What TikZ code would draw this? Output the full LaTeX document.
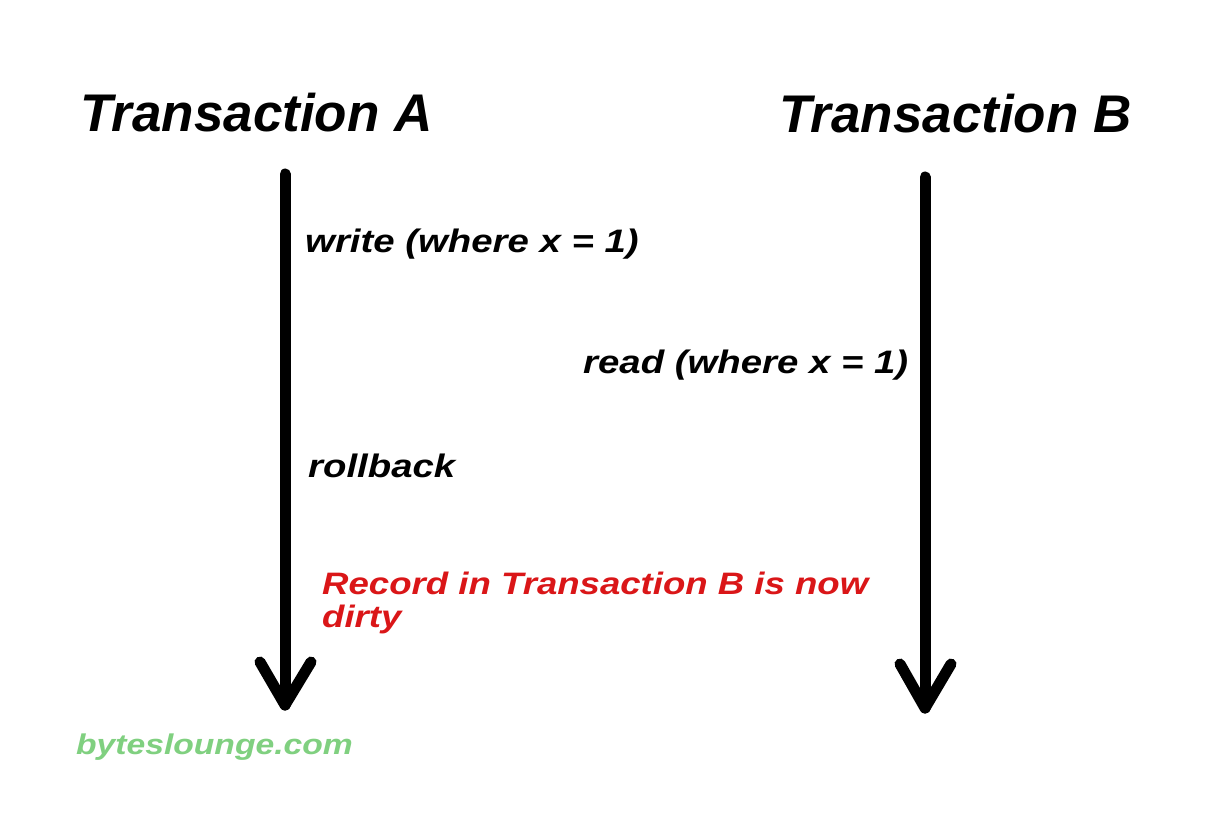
\documentclass[tikz,border=0pt]{standalone}
\usepackage{fontspec}
\setmainfont{Liberation Sans}
\newfontfamily\titlefont{Liberation Sans}
\newfontfamily\bodyfont{Liberation Sans}[FakeStretch=1.18]
\definecolor{dirtyred}{RGB}{218,22,24}
\definecolor{sitegreen}{RGB}{128,208,128}
\begin{document}
\begin{tikzpicture}[x=1pt,y=-1pt,
  title/.style={anchor=base west,inner sep=0pt,font=\titlefont\bfseries\itshape\fontsize{53}{60}\selectfont},
  label/.style={anchor=base west,inner sep=0pt,font=\bodyfont\bfseries\itshape\fontsize{32.5}{38}\selectfont},
  note/.style={anchor=north west,inner sep=0pt,align=left,text=dirtyred,font=\bodyfont\bfseries\itshape\fontsize{31}{33}\selectfont},
  site/.style={anchor=base west,inner sep=0pt,text=sitegreen,font=\bodyfont\bfseries\itshape\fontsize{28.5}{32}\selectfont},
  timeline/.style={line width=11pt,line cap=round,line join=round}]
\useasboundingbox[fill=white] (0,0) rectangle (1220,813);
% titles
\node[title] (tA) at (80,132) {Transaction A};
\node[title] (tB) at (779,133) {Transaction B};
% timelines
\coordinate (Atop) at (285,174);
\coordinate (Atip) at (285,705);
\coordinate (Al) at (260,662);
\coordinate (Ar) at (311,662);
\coordinate (Btop) at (925,177);
\coordinate (Btip) at (925,708);
\coordinate (Bl) at (900,664);
\coordinate (Br) at (951,664);
\draw[timeline] (Atop) -- (Atip);
\draw[timeline] (Al) -- (Atip) -- (Ar);
\draw[timeline] (Btop) -- (Btip);
\draw[timeline] (Bl) -- (Btip) -- (Br);
% events
\node[label] (w) at (305,252) {write (where x = 1)};
\node[label] (r) at (583,373) {read (where x = 1)};
\node[label] (rb) at (308,477) {rollback};
\node[note] (n) at (322,572) {Record in Transaction B is now\\dirty};
\node[site] (s) at (76,754) {byteslounge.com};
\end{tikzpicture}
\end{document}
